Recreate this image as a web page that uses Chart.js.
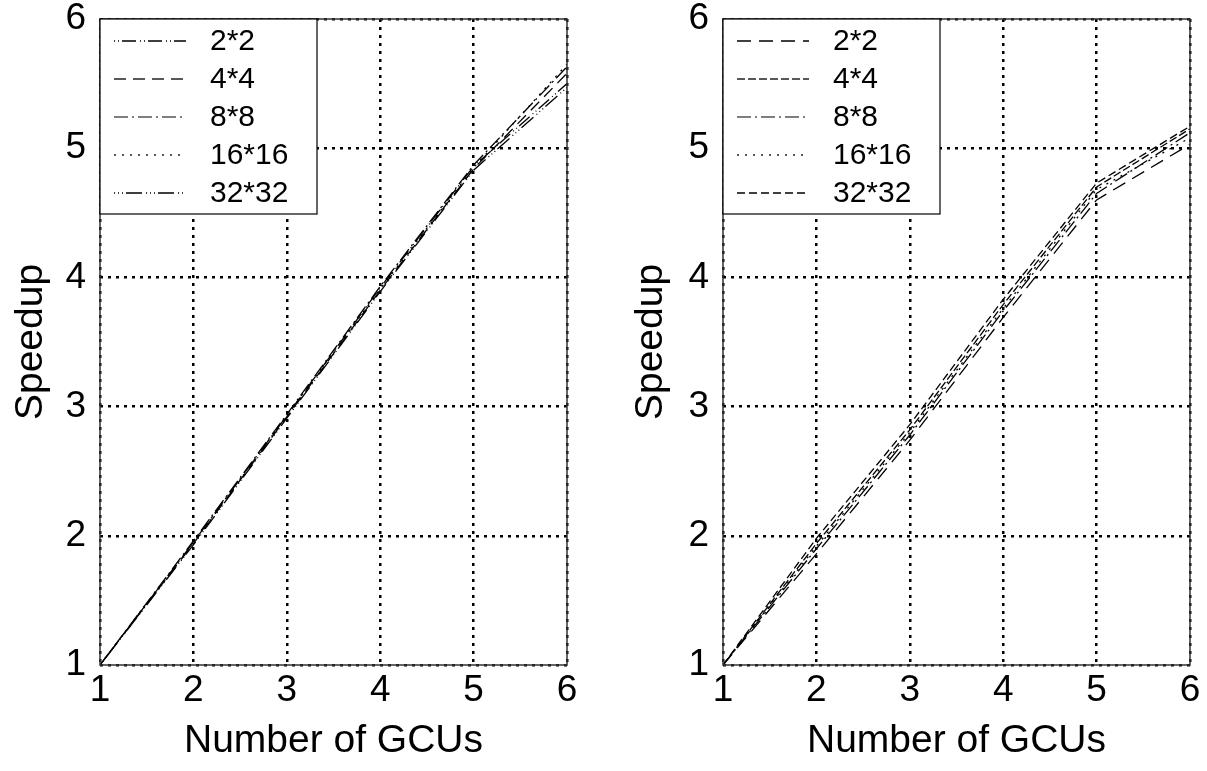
<!DOCTYPE html>
<html>
<head>
<meta charset="utf-8">
<script src="https://cdn.jsdelivr.net/npm/chart.js@4"></script>
<style>
body { margin: 0; background: #fff; }
canvas { position: absolute; top: 0; }
#left { left: 0; }
#right { left: 620px; }
</style>
</head>
<body>
<canvas id="left" width="600" height="771"></canvas>
<canvas id="right" width="587" height="771"></canvas>
<script>
var gcus = [1, 2, 3, 4, 5, 6];
var seriesNames = ["2*2", "4*4", "8*8", "16*16", "32*32"];

// left panel
var left2 = [1, 1.95, 2.93, 3.92, 4.86, 5.50];
var left4 = [1, 1.94, 2.92, 3.90, 4.84, 5.58];
var left8 = [1, 1.96, 2.94, 3.93, 4.87, 5.63];
var left16 = [1, 1.95, 2.93, 3.91, 4.85, 5.65];
var left32 = [1, 1.93, 2.91, 3.89, 4.83, 5.47];

// right panel
var right2 = [1, 1.86, 2.74, 3.69, 4.60, 5.03];
var right4 = [1, 1.94, 2.82, 3.79, 4.70, 5.15];
var right8 = [1, 1.90, 2.78, 3.74, 4.65, 5.12];
var right16 = [1, 1.92, 2.80, 3.76, 4.68, 5.08];
var right32 = [1, 1.98, 2.86, 3.83, 4.73, 5.17];

var leftDash = [[1, 3, 1, 3, 14, 4], [12, 7], [14, 4, 2, 4], [2, 6], [1, 3, 1, 3, 1, 3, 16, 4]];
var rightDash = [[14, 8], [8, 3], [14, 4, 2, 4], [2, 6], [8, 4]];
var legendColors = ["#000", "#222", "#555", "#222", "#000"];

var font = "'Liberation Sans', Arial, Helvetica, sans-serif";

var boxAndLegend = {
	id: 'boxAndLegend',
	afterDatasetsDraw: function(chart) {
		var ctx = chart.ctx;
		var a = chart.chartArea;
		ctx.save();
		ctx.strokeStyle = '#333';
		ctx.lineWidth = 1.5;
		ctx.setLineDash([]);
		ctx.strokeRect(a.left, a.top, a.right - a.left, a.bottom - a.top);
		// legend
		var w = 217, h = 195;
		ctx.fillStyle = '#fff';
		ctx.fillRect(a.left, a.top, w, h);
		ctx.strokeStyle = '#000';
		ctx.lineWidth = 1.2;
		ctx.strokeRect(a.left, a.top, w, h);
		ctx.font = "30px " + font;
		ctx.textBaseline = 'middle';
		chart.data.datasets.forEach(function(ds, i) {
			var y = a.top + 22 + i * 38;
			ctx.beginPath();
			ctx.setLineDash(ds.borderDash);
			ctx.strokeStyle = legendColors[i];
			ctx.lineWidth = 1.4;
			ctx.moveTo(a.left + 14, y);
			ctx.lineTo(a.left + 86, y);
			ctx.stroke();
			ctx.setLineDash([]);
			ctx.fillStyle = '#000';
			ctx.fillText(ds.label, a.left + 110, y + 1);
		});
		ctx.restore();
	}
};

function makeChart(id, values, dashes, yWidth, padRight) {
	var datasets = [];
	for (var i = 0; i < values.length; ++i) {
		datasets.push({
			label: seriesNames[i],
			data: gcus.map(function(g, j) { return {x: g, y: values[i][j]}; }),
			borderColor: '#000',
			borderWidth: 1.3,
			borderDash: dashes[i],
			pointRadius: 0,
			fill: false,
			tension: 0
		});
	}
	return new Chart(document.getElementById(id), {
		type: 'line',
		data: {datasets: datasets},
		plugins: [boxAndLegend],
		options: {
			responsive: false,
			animation: false,
			layout: {padding: {left: 0, right: padRight, top: 19, bottom: 6}},
			plugins: {legend: {display: false}, tooltip: {enabled: false}},
			scales: {
				x: {
					type: 'linear',
					min: 1, max: 6,
					ticks: {stepSize: 1, color: '#000', font: {family: font, size: 37}, padding: 4, maxRotation: 0},
					grid: {color: '#000', lineWidth: 2.5, drawTicks: false},
					border: {display: false, dash: [3, 5]},
					title: {display: true, text: 'Number of GCUs', color: '#000', font: {family: font, size: 39}, padding: {top: 0, bottom: 0}},
					afterFit: function(s) { s.height = 100; s.paddingLeft = 0; s.paddingRight = 0; }
				},
				y: {
					type: 'linear',
					min: 1, max: 6,
					ticks: {stepSize: 1, color: '#000', font: {family: font, size: 37}, padding: 14},
					grid: {color: '#000', lineWidth: 2.5, drawTicks: false},
					border: {display: false, dash: [3, 5]},
					title: {display: true, text: 'Speedup', color: '#000', font: {family: font, size: 39}, padding: {top: 8, bottom: 0}},
					afterFit: function(s) { s.width = yWidth; s.paddingTop = 0; s.paddingBottom = 0; }
				}
			}
		}
	});
}

makeChart('left', [left2, left4, left8, left16, left32], leftDash, 100, 33);
makeChart('right', [right2, right4, right8, right16, right32], rightDash, 103, 17);
</script>
</body>
</html>
